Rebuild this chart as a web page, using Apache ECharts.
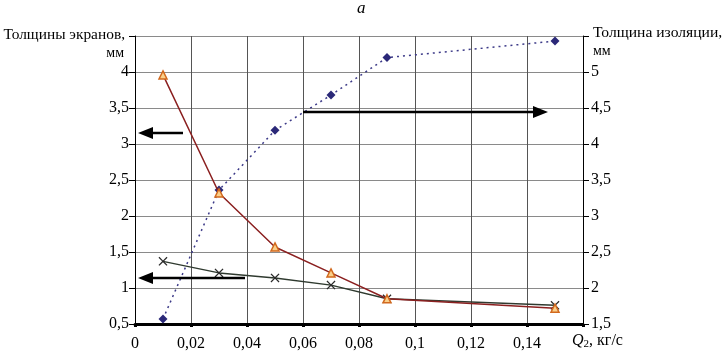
<!DOCTYPE html>
<html><head><meta charset="utf-8">
<script src="https://cdn.jsdelivr.net/npm/echarts@6/dist/echarts.min.js"></script>
<style>html,body{margin:0;padding:0;background:#fff}#c{width:724px;height:354px}</style>
</head><body><div id="c"></div>
<script>
var xValues = [0.01, 0.03, 0.05, 0.07, 0.09, 0.15];
var screenA = [3.96, 2.32, 1.57, 1.21, 0.85, 0.72];
var screenB = [1.37, 1.21, 1.14, 1.04, 0.85, 0.76];
var insulation = [1.57, 3.36, 4.19, 4.68, 5.20, 5.43];
var xTickLabels = ['0','0,02','0,04','0,06','0,08','0,1','0,12','0,14',''];
var leftTickLabels = ['0,5','1','1,5','2','2,5','3','3,5','4',''];
var rightTickLabels = ['1,5','2','2,5','3','3,5','4','4,5','5',''];

function pairs(xs, ys){ return xs.map(function(x,i){return [x, ys[i]];}); }
var serif = 'Liberation Serif';
var chart = echarts.init(document.getElementById('c'));
var cross = 'path://M0,1L1,0L5,4L9,0L10,1L6,5L10,9L9,10L5,6L1,10L0,9L4,5Z';

function arrowGraphic(x1, y, x2){
  var dir = x2 < x1 ? -1 : 1;
  var headLen = 15, headW = 6;
  return [
    {type:'line', shape:{x1:x1, y1:y, x2:x2 - dir*headLen + dir*2, y2:y}, style:{stroke:'#000', lineWidth:2.5}, z:100},
    {type:'polygon', shape:{points:[[x2,y],[x2-dir*headLen,y-headW],[x2-dir*headLen,y+headW]]}, style:{fill:'#000'}, z:100}
  ];
}

var option = {
  animation:false,
  backgroundColor:'#fff',
  grid:{left:135, right:141, top:36, bottom:30},
  xAxis:{
    type:'value', min:0, max:0.16, interval:0.02,
    axisLine:{show:true, onZero:false, lineStyle:{color:'#000', width:3}},
    axisTick:{show:true, length:3, inside:false, lineStyle:{color:'#000', width:3}},
    axisLabel:{margin:12, fontFamily:serif, fontSize:16, color:'#000',
      formatter:function(v){ var i=Math.round(v/0.02); return xTickLabels[i]; }},
    splitLine:{show:true, lineStyle:{color:'#555', width:1}}
  },
  yAxis:[
    {type:'value', min:0.5, max:4.5, interval:0.5, position:'left',
     axisLine:{show:true, lineStyle:{color:'#000', width:1}},
     axisTick:{show:true, length:6, lineStyle:{color:'#000'}},
     axisLabel:{margin:6, fontFamily:serif, fontSize:16, color:'#000',
       formatter:function(v){ return leftTickLabels[Math.round((v-0.5)/0.5)]; }},
     splitLine:{show:true, lineStyle:{color:'#8a8a8a', width:1}}},
    {type:'value', min:1.5, max:5.5, interval:0.5, position:'right',
     axisLine:{show:true, lineStyle:{color:'#000', width:1}},
     axisTick:{show:true, length:6, lineStyle:{color:'#000'}},
     axisLabel:{margin:8, fontFamily:serif, fontSize:16, color:'#000',
       formatter:function(v){ return rightTickLabels[Math.round((v-1.5)/0.5)]; }},
     splitLine:{show:false}}
  ],
  series:[
    {type:'line', yAxisIndex:1, data:pairs(xValues, insulation),
     symbol:'diamond', symbolSize:9, itemStyle:{color:'#2B2878'},
     lineStyle:{color:'#3C3A88', width:1.5, type:[2,4]}, z:3},
    {type:'line', yAxisIndex:0, data:pairs(xValues, screenB),
     symbol:cross, symbolSize:9, itemStyle:{color:'#2A2A2A'},
     lineStyle:{color:'#2F3A2F', width:1.5}, z:4},
    {type:'line', yAxisIndex:0, data:pairs(xValues, screenA),
     symbol:'triangle', symbolSize:8, itemStyle:{color:'#FAD08A', borderColor:'#D2691E', borderWidth:1.5},
     lineStyle:{color:'#8B2020', width:1.5}, z:5}
  ],
  graphic:[].concat(
    arrowGraphic(183, 133, 138),
    arrowGraphic(245, 278, 138),
    arrowGraphic(303, 112, 548),
    [
      {type:'text', left:357, top:0, style:{text:'a', font:'italic 17px "Liberation Serif"', fill:'#000'}},
      {type:'text', right:724-125, top:27, style:{text:'Толщины экранов,', font:'15.4px "Liberation Serif"', fill:'#000', textAlign:'right'}},
      {type:'text', right:724-124, top:46, style:{text:'мм', font:'14px "Liberation Serif"', fill:'#000', textAlign:'right'}},
      {type:'text', left:593, top:25, style:{text:'Толщина изоляции,', font:'15.6px "Liberation Serif"', fill:'#000'}},
      {type:'text', left:593, top:44, style:{text:'мм', font:'14px "Liberation Serif"', fill:'#000'}},
      {type:'text', left:572, top:333, style:{
        rich:{i:{fontFamily:serif, fontStyle:'italic', fontSize:16, fill:'#000'},
              s:{fontFamily:serif, fontSize:11, fill:'#000', padding:[6,0,0,0]},
              t:{fontFamily:serif, fontSize:16, fill:'#000'}},
        text:'{i|Q}{s|2}{t|, кг/с}'}}
    ]
  )
};
chart.setOption(option);
</script></body></html>
